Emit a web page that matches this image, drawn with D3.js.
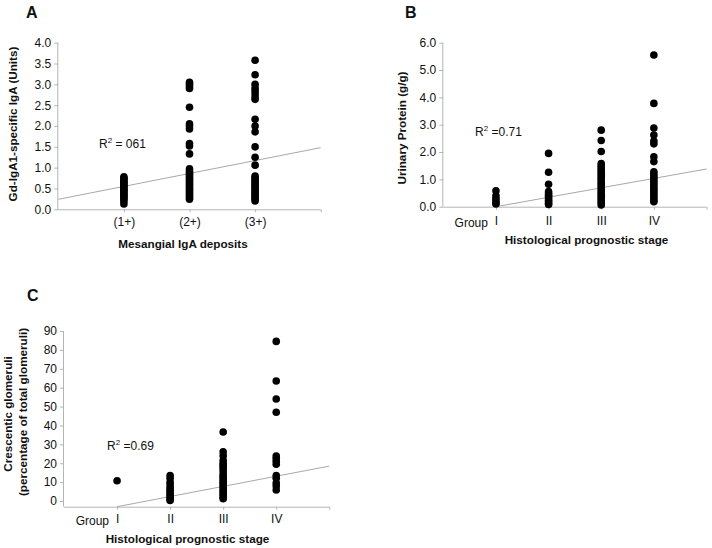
<!DOCTYPE html>
<html><head><meta charset="utf-8">
<script src="https://cdn.jsdelivr.net/npm/d3@7"></script>
<style>body{margin:0;background:#fff}svg{display:block}text{font-family:"Liberation Sans",Arial,sans-serif}</style>
</head><body>
<svg id="c" width="712" height="548"></svg>
<script>
// ---- Panel A data ----
const catsA = ["(1+)", "(2+)", "(3+)"];
const valsA1 = [0.78,0.75,0.72,0.68,0.65,0.62,0.58,0.55,0.52,0.48,0.45,0.42,0.38,0.35,0.32,0.28,0.25,0.2,0.13];
const valsA2 = [3.05,3.0,2.95,2.9,2.45,2.05,2.0,1.93,1.58,1.52,1.33,0.97,0.92,0.88,0.84,0.8,0.76,0.72,0.68,0.64,0.6,0.56,0.52,0.48,0.44,0.4,0.36,0.32,0.28,0.24];
const valsA3 = [3.58,3.23,3.0,2.92,2.85,2.78,2.7,2.64,2.16,2.0,1.86,1.5,1.25,1.06,0.8,0.76,0.72,0.68,0.64,0.6,0.56,0.52,0.48,0.44,0.4,0.36,0.32,0.28,0.24,0.2];
const ticksA = [0,0.5,1,1.5,2,2.5,3,3.5,4];
const regA = [[0,0.24],[4,1.48]];

// ---- Panel B data ----
const catsB = ["I", "II", "III", "IV"];
const valsB1 = [0.58,0.4,0.3,0.22,0.14,0.1];
const valsB2 = [1.95,1.26,0.82,0.55,0.48,0.42,0.36,0.3,0.24,0.18,0.12,0.08];
const valsB3 = [2.8,2.42,2.02,1.58,1.5,1.42,1.34,1.26,1.18,1.1,1.02,0.94,0.86,0.78,0.7,0.62,0.54,0.46,0.38,0.3,0.22,0.14,0.06];
const valsB4 = [5.55,3.78,2.88,2.62,2.4,2.3,1.83,1.65,1.28,1.2,1.12,1.04,0.96,0.88,0.8,0.72,0.64,0.56,0.48,0.4,0.32,0.24,0.18];
const ticksB = [0,1,2,3,4,5,6];
const regB = [[1,0],[5,1.38]];

// ---- Panel C data ----
const catsC = ["I", "II", "III", "IV"];
const valsC1 = [10.7];
const valsC2 = [13.5,12,10,8.5,7,6,5,4,3,2,1,0.3];
const valsC3 = [36.5,26,24,21.5,20,19,18,17,15.5,14,13,12,11,10,9,8,7,6,5,4,3,2,1.2];
const valsC4 = [84.5,63.5,54,47,23.8,22.5,21,19.5,13.5,12,9.5,8,5.8];
const ticksC = [0,10,20,30,40,50,60,70,80,90];
const regC = [[1,-3],[5,18.5]];

const svg = d3.select("#c");
const AXIS = "#b4b4b4", REG = "#a8a8a8";

function panel(o){
  const g = svg.append("g");
  const x = d3.scaleLinear().domain([0, o.cats.length+1]).range(o.xr);
  const y = d3.scaleLinear().domain(o.yd).range(o.yr);
  // y axis
  const ya = d3.axisLeft(y).tickValues(o.yticks).tickFormat(o.fmt).tickSize(4).tickPadding(3);
  const gy = g.append("g").attr("transform",`translate(${o.xr[0]},0)`).call(ya);
  gy.select(".domain").attr("stroke",AXIS).attr("d",`M-0.5,${o.yr[0]}V${y(o.yticks[o.yticks.length-1])}`);
  gy.selectAll(".tick line").attr("stroke",AXIS);
  gy.selectAll(".tick text").attr("font-size",12).attr("fill","#111");
  // x axis
  const xb = o.yr[0];
  const xa = d3.axisBottom(x).tickValues(d3.range(1,o.cats.length+2)).tickFormat(d=>d<=o.cats.length?o.cats[d-1]:"").tickSize(3).tickPadding(o.tpad);
  const gx = g.append("g").attr("transform",`translate(0,${xb})`).call(xa);
  gx.select(".domain").attr("stroke",AXIS).attr("d",`M${o.xr[0]},0.5H${o.xr[1]}`);
  gx.selectAll(".tick line").attr("stroke",AXIS);
  gx.selectAll(".tick text").attr("font-size",12).attr("fill","#111");
  if(o.group){
    g.append("text").attr("x",x(1)-8).attr("y",xb+o.tpad+3+10).attr("text-anchor","end").attr("font-size",12).attr("fill","#111").text("Group");
  }
  // regression
  g.append("line").attr("x1",x(o.reg[0][0])).attr("y1",y(o.reg[0][1])).attr("x2",x(o.reg[1][0])).attr("y2",y(o.reg[1][1]))
    .attr("stroke",REG).attr("stroke-width",1);
  // points
  o.vals.forEach((vs,i)=>{
    g.selectAll(null).data(vs).enter().append("circle")
      .attr("cx",x(i+1)).attr("cy",d=>y(d)).attr("r",3.8).attr("fill","#000");
  });
  // R2
  const t = g.append("text").attr("x",o.r2[0]).attr("y",o.r2[1]).attr("font-size",12).attr("fill","#111");
  t.append("tspan").text("R");
  t.append("tspan").attr("font-size",8).attr("dy",-5).text("2");
  t.append("tspan").attr("dy",5).text(o.r2t);
  // x title
  g.append("text").attr("x",o.xt[0]).attr("y",o.xt[1]).attr("text-anchor","middle").attr("font-size",11.7).attr("font-weight","bold").attr("fill","#111").text(o.xtitle);
  // y title
  o.ytitle.forEach((s,i)=>{
    g.append("text").attr("transform",`translate(${o.yt[i][0]},${o.yt[i][1]}) rotate(-90)`).attr("text-anchor","middle")
      .attr("font-size",11.7).attr("font-weight","bold").attr("fill","#111").text(s);
  });
  // panel letter
  g.append("text").attr("x",o.letter[0]).attr("y",o.letter[1]).attr("font-size",16).attr("font-weight","bold").attr("fill","#111").text(o.L);
}

panel({cats:catsA, vals:[valsA1,valsA2,valsA3], xr:[58.3,320.7], yd:[0,4], yr:[209.3,42.7], yticks:ticksA, fmt:d3.format(".1f"),
  reg:regA, tpad:5, r2:[99,147.5], r2t:" = 061", xt:[183,247.5], xtitle:"Mesangial IgA deposits",
  ytitle:["Gd-IgA1-specific IgA (Units)"], yt:[[17,124]], letter:[26,18], L:"A"});

panel({cats:catsB, vals:[valsB1,valsB2,valsB3,valsB4], xr:[443.3,706.5], yd:[0,6], yr:[206.7,42.7], yticks:ticksB, fmt:d3.format(".1f"),
  reg:regB, tpad:7, group:true, r2:[475,135.5], r2t:" =0.71", xt:[586.5,243.5], xtitle:"Histological prognostic stage",
  ytitle:["Urinary Protein (g/g)"], yt:[[406,128]], letter:[405,18], L:"B"});

panel({cats:catsC, vals:[valsC1,valsC2,valsC3,valsC4], xr:[64,329.3], yd:[-3,90], yr:[506.7,331], yticks:ticksC, fmt:d3.format("d"),
  reg:regC, tpad:5, group:true, r2:[107,449.5], r2t:" =0.69", xt:[187.5,542.5], xtitle:"Histological prognostic stage",
  ytitle:["Crescentic glomeruli","(percentage of total glomeruli)"], yt:[[12,414],[27,412]], letter:[27,301], L:"C"});
</script>
</body></html>
